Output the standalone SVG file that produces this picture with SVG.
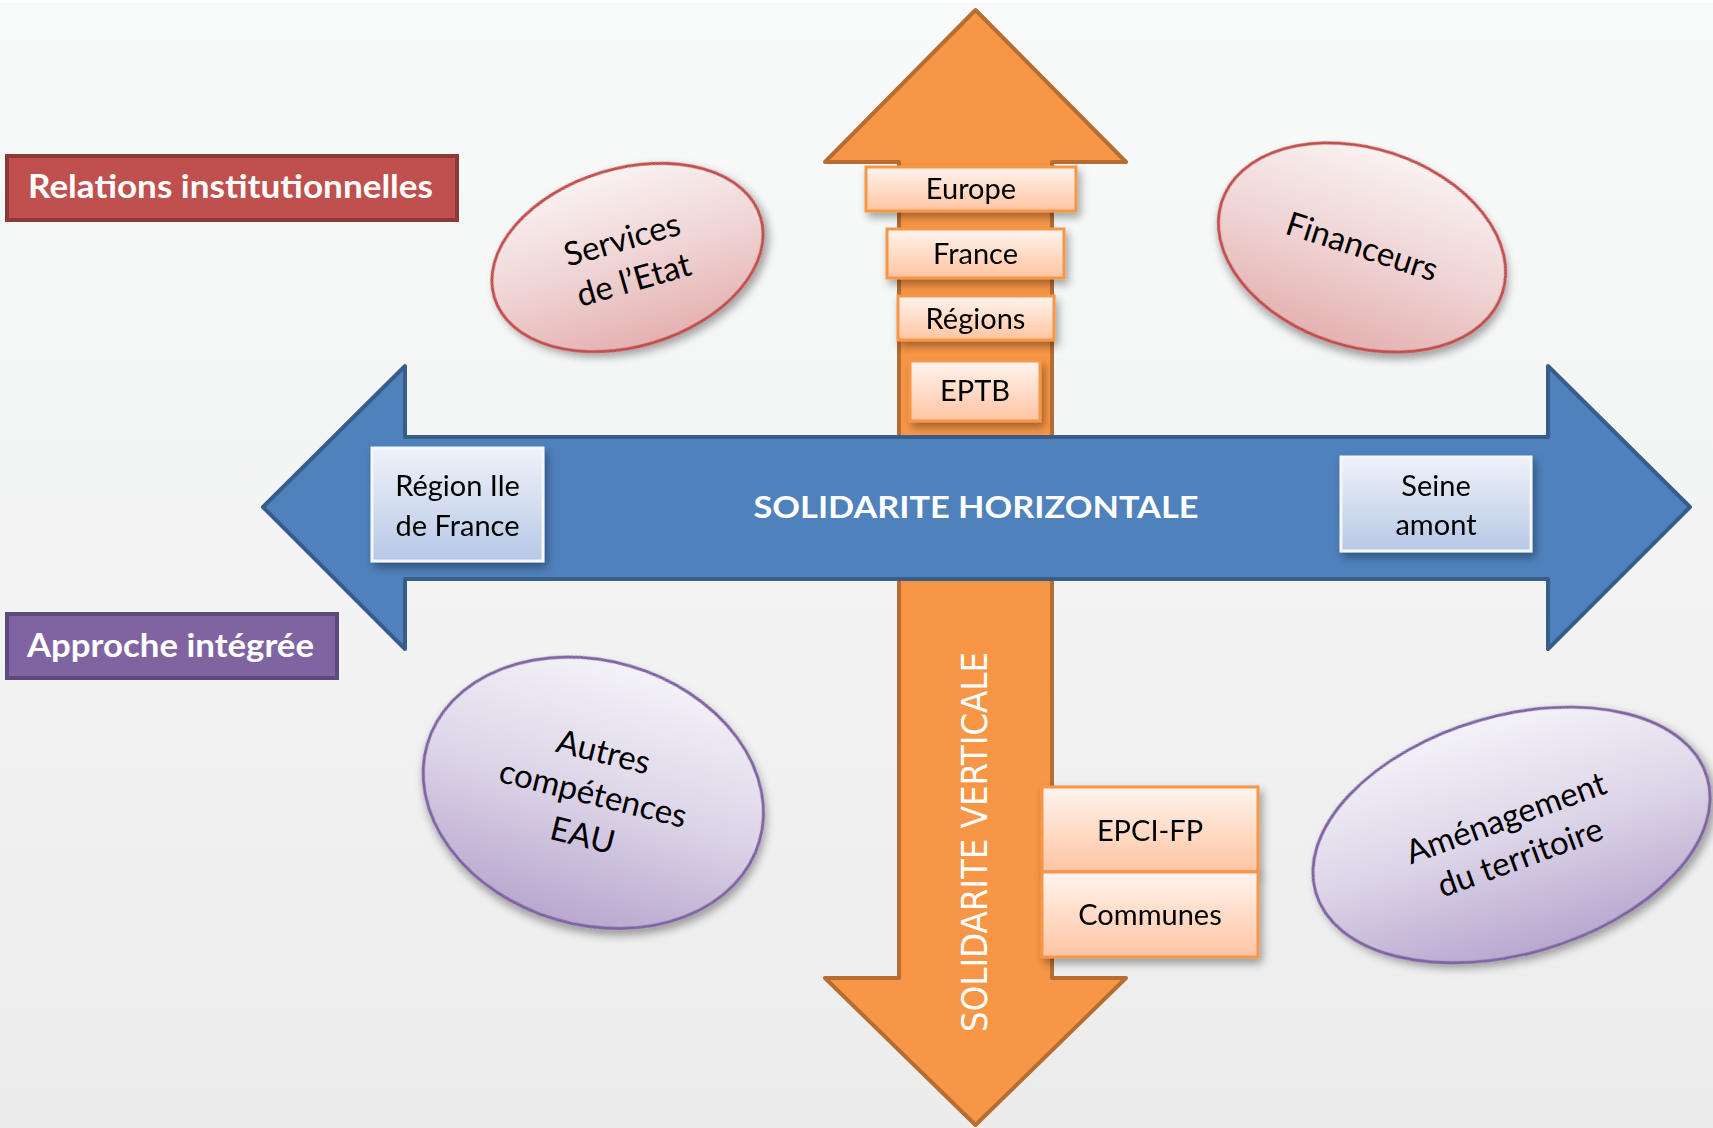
<svg xmlns="http://www.w3.org/2000/svg" width="1713" height="1128" viewBox="0 0 1713 1128">
<style>
.lbl{font-family:Lato,"Liberation Sans",sans-serif;font-size:29px;fill:#000;text-anchor:middle}
.ell{font-family:Lato,"Liberation Sans",sans-serif;font-size:33px;fill:#000;text-anchor:middle}
.ttl{font-family:Lato,"Liberation Sans",sans-serif;font-size:32px;font-weight:bold;fill:#fff}
.box-o{fill:url(#gOrange);stroke:#F79646;stroke-width:3}
.box-b{fill:url(#gBlue);stroke:#F4F7FC;stroke-width:3}
</style>
<defs>
<linearGradient id="gBg" x1="0" y1="0" x2="0" y2="1"><stop offset="0" stop-color="#F9FAFA"/><stop offset="1" stop-color="#ECECEC"/></linearGradient>
<linearGradient id="gOrange" x1="0" y1="0" x2="0" y2="1"><stop offset="0" stop-color="#FFF4EF"/><stop offset="0.5" stop-color="#FFDCC8"/><stop offset="1" stop-color="#FFC4A2"/></linearGradient>
<linearGradient id="gBlue" x1="0" y1="0" x2="0" y2="1"><stop offset="0" stop-color="#EEF2F9"/><stop offset="0.5" stop-color="#D3DDEF"/><stop offset="1" stop-color="#B6C8E7"/></linearGradient>
<linearGradient id="gPink" x1="0" y1="0" x2="0" y2="1"><stop offset="0" stop-color="#F9F1F1"/><stop offset="0.5" stop-color="#F0D5D5"/><stop offset="1" stop-color="#E5B1B1"/></linearGradient>
<linearGradient id="gPurple" x1="0" y1="0" x2="0" y2="1"><stop offset="0" stop-color="#F4F2F8"/><stop offset="0.5" stop-color="#DDD5E8"/><stop offset="1" stop-color="#B8A8CF"/></linearGradient>
<filter id="sh" x="-20%" y="-20%" width="140%" height="150%"><feDropShadow dx="3" dy="5" stdDeviation="4" flood-color="#000" flood-opacity="0.35"/></filter>
</defs>
<rect width="1713" height="1128" fill="url(#gBg)"/>
<rect width="1713" height="3" fill="#fff"/>

<g id="arrows">
<path id="vertical-arrow" d="M975.5,10 L1126,162 L1052,162 L1052,978 L1126,978 L975.5,1125 L825,978 L899,978 L899,162 L825,162 Z" fill="#F79646" stroke="#B66D31" stroke-width="4" stroke-linejoin="round"/>
<path id="horizontal-arrow" d="M263,507 L405,366 L405,437 L1548,437 L1548,366 L1690,507 L1548,649 L1548,579 L405,579 L405,649 Z" fill="#4F81BD" stroke="#385D8A" stroke-width="4" stroke-linejoin="round"/>
<text x="976" y="518" font-family="Lato,'Liberation Sans',sans-serif" font-size="30" font-weight="bold" fill="#fff" text-anchor="middle" textLength="445" lengthAdjust="spacingAndGlyphs">SOLIDARITE HORIZONTALE</text>
<text transform="translate(987,842) rotate(-90)" font-family="'DejaVu Sans',sans-serif" font-size="36" fill="#fff" text-anchor="middle" textLength="380" lengthAdjust="spacingAndGlyphs">SOLIDARITE VERTICALE</text>
</g>

<g id="relations-institutionnelles">
<rect x="7" y="156" width="450" height="64" fill="#C0504D" stroke="#8C3A38" stroke-width="4"/>
<text class="ttl" x="28" y="198" textLength="405" lengthAdjust="spacingAndGlyphs">Relations institutionnelles</text>
</g>
<g id="approche-integree">
<rect x="7" y="614" width="330" height="64" fill="#8064A2" stroke="#5E4A7A" stroke-width="4"/>
<text class="ttl" x="27" y="657" textLength="287" lengthAdjust="spacingAndGlyphs">Approche intégrée</text>
</g>

<g id="europe" filter="url(#sh)">
<rect class="box-o" x="866" y="167" width="210" height="44"/>
<text class="lbl" x="971" y="199">Europe</text>
</g>
<g id="france" filter="url(#sh)">
<rect class="box-o" x="887" y="229" width="177" height="49"/>
<text class="lbl" x="975.5" y="264">France</text>
</g>
<g id="regions" filter="url(#sh)">
<rect class="box-o" x="898" y="296" width="156" height="44"/>
<text class="lbl" x="975.5" y="329">Régions</text>
</g>
<g id="eptb" filter="url(#sh)">
<rect class="box-o" x="910" y="361" width="130" height="60"/>
<text class="lbl" x="975" y="401">EPTB</text>
</g>

<g id="region-ile-de-france" filter="url(#sh)">
<rect class="box-b" x="372" y="448" width="171" height="113"/>
<text class="lbl" x="457.5" y="496">Région Ile</text>
<text class="lbl" x="457.5" y="536">de France</text>
</g>
<g id="seine-amont" filter="url(#sh)">
<rect class="box-b" x="1341" y="457" width="190" height="94"/>
<text class="lbl" x="1436" y="496">Seine</text>
<text class="lbl" x="1436" y="535">amont</text>
</g>

<g id="epci-fp" filter="url(#sh)">
<rect class="box-o" x="1042" y="787" width="216" height="85"/>
<text class="lbl" x="1150" y="841">EPCI-FP</text>
</g>
<g id="communes" filter="url(#sh)">
<rect class="box-o" x="1042" y="872" width="216" height="85"/>
<text class="lbl" x="1150" y="925">Communes</text>
</g>

<g id="services-etat">
<g transform="translate(627.5,257.5) rotate(-16.7)">
<ellipse rx="139" ry="89" fill="url(#gPink)" stroke="#C0504D" stroke-width="3" filter="url(#sh)"/>
</g>
<g transform="translate(628,260) rotate(-16)">
<text class="ell" x="0" y="-10">Services</text>
<text class="ell" x="0" y="32">de l’Etat</text>
</g>
</g>

<g id="financeurs">
<g transform="translate(1362,247.5) rotate(18)">
<ellipse rx="147.5" ry="99" fill="url(#gPink)" stroke="#C0504D" stroke-width="3" filter="url(#sh)"/>
</g>
<g transform="translate(1362,247) rotate(18)">
<text class="ell" x="0" y="11">Financeurs</text>
</g>
</g>

<g id="autres-competences-eau">
<g transform="translate(593.3,792.8) rotate(16.3)">
<ellipse rx="173" ry="132" fill="url(#gPurple)" stroke="#8064A2" stroke-width="3" filter="url(#sh)"/>
</g>
<g transform="translate(593,794) rotate(14)">
<text class="ell" x="0" y="-32">Autres</text>
<text class="ell" x="0" y="11">compétences</text>
<text class="ell" x="0" y="54">EAU</text>
</g>
</g>

<g id="amenagement-territoire">
<g transform="translate(1511.5,835) rotate(-16.4)">
<ellipse rx="204" ry="119" fill="url(#gPurple)" stroke="#8064A2" stroke-width="3" filter="url(#sh)"/>
</g>
<g transform="translate(1513,838) rotate(-20)">
<text class="ell" x="0" y="-10">Aménagement</text>
<text class="ell" x="0" y="32">du territoire</text>
</g>
</g>
</svg>
